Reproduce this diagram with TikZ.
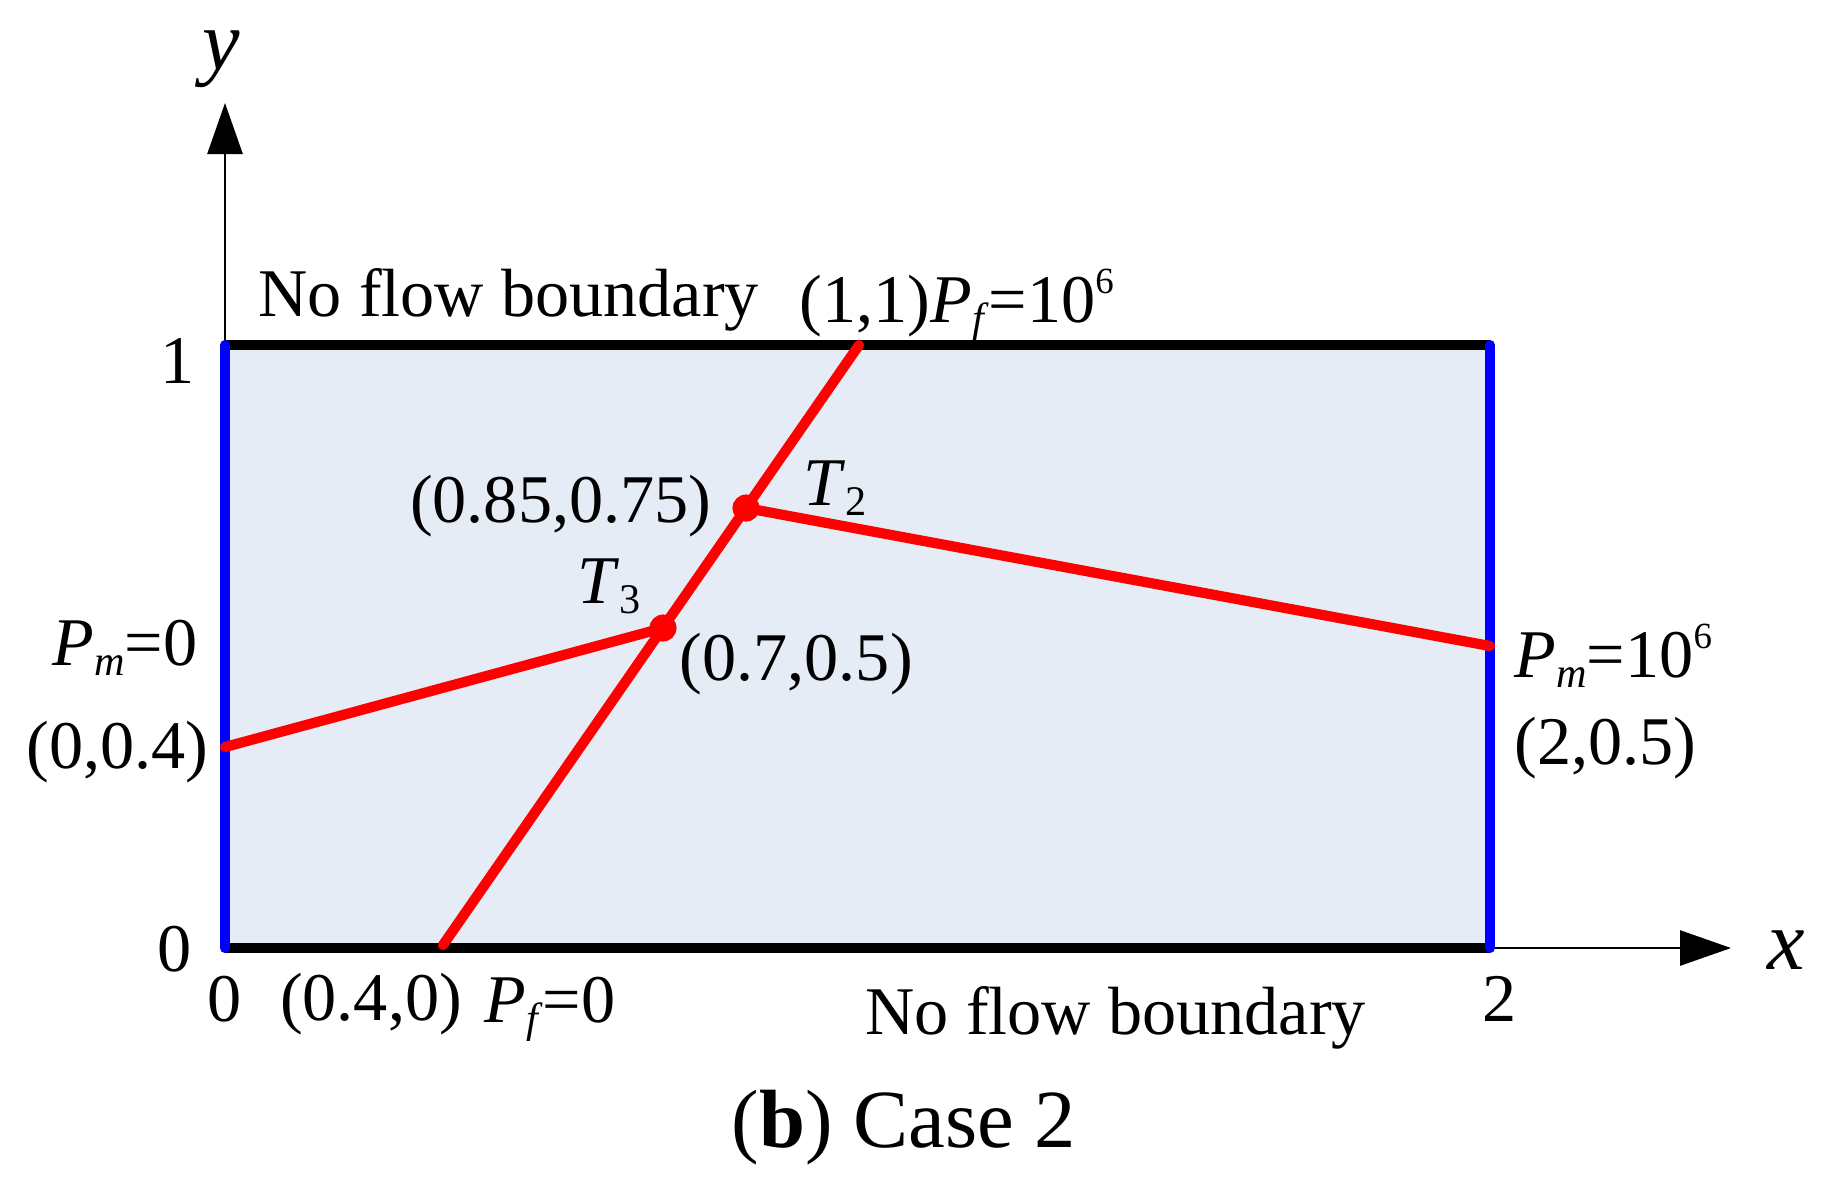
\documentclass[tikz,border=0pt]{standalone}
\usepackage{fontspec}
\setmainfont{Liberation Serif}
\usetikzlibrary{arrows.meta}
\definecolor{bgblue}{RGB}{230,236,246}
\definecolor{fracred}{RGB}{255,0,0}
\definecolor{edgeblue}{RGB}{0,0,255}
\newcommand\Sb[1]{\raisebox{-0.16em}{\fontsize{12}{12}\selectfont #1}}
\newcommand\Sp[1]{\raisebox{0.42em}{\fontsize{10.5}{10.5}\selectfont #1}}
\tikzset{
  lbl/.style={inner sep=0pt, font=\fontsize{19.4}{22}\selectfont},
  axlbl/.style={inner sep=0pt, font=\fontsize{24}{28}\selectfont},
  axis/.style={line width=0.6pt, -{Triangle[length=14.5pt,width=10pt]}},
  bedge/.style={line width=2.6pt, black},
  bledge/.style={line width=2.85pt, edgeblue, line cap=round},
  frac/.style={line width=2.9pt, fracred, line cap=round},
  fdot/.style={circle, fill=fracred, inner sep=0pt, minimum size=7.6pt},
}
\begin{document}
\begin{tikzpicture}[x=0.01cm, y=-0.01cm]
\path[use as bounding box] (0,0) rectangle (1828,1196);
% corners
\coordinate (BL) at (225,948);
\coordinate (BR) at (1490,948);
\coordinate (TL) at (225,345);
\coordinate (TR) at (1490,345);
\coordinate (XA) at (1731,948);
\coordinate (YA) at (225,103);
% fracture points
\coordinate (F0) at (443,945);
\coordinate (F1) at (859,345);
\coordinate (L) at (225,747);
\coordinate (R) at (1490,646);
% domain
\fill[bgblue] (BL) rectangle (TR);
\draw[axis] (BR) -- (XA);
\draw[axis] (TL) -- (YA);
\draw[bedge] (TL) -- (TR);
\draw[bedge] (BL) -- (BR);
\draw[bledge] (BL) -- (TL);
\draw[bledge] (BR) -- (TR);
% fractures
\draw[frac] (F0) -- (F1);
\node[fdot] (J3) at (663,628) {};
\node[fdot] (J2) at (746,508) {};
\draw[frac] (L) -- (J3.center);
\draw[frac] (J2.center) -- (R);
\node[fdot] at (J3) {};
\node[fdot] at (J2) {};
% axis labels
\node[axlbl, anchor=base] (ylab) at (221,69) {\textit{y}};
\node[axlbl, anchor=base] (xlab) at (1786,969) {\textit{x}};
\node[lbl, anchor=base] (t1) at (178,383) {1};
\node[lbl, anchor=base] (t0y) at (175,971) {0};
\node[lbl, anchor=base] (t0x) at (225,1021) {0};
\node[lbl, anchor=base] (t2x) at (1500,1021) {2};
% texts
\node[lbl, anchor=base west] (nftop) at (258,316) {No flow boundary};
\node[lbl, anchor=base west] (p11) at (799,322) {(1,1)\textit{P}\Sb{\textit{f}}=10\Sp{6}};
\node[lbl, anchor=base east] (p085) at (712,522) {(0.85,0.75)};
\node[lbl, anchor=base west] (T2) at (803,505) {\textit{T}\Sb{2}};
\node[lbl, anchor=base west] (T3) at (577,603) {\textit{T}\Sb{3}};
\node[lbl, anchor=base west] (p07) at (679,680) {(0.7,0.5)};
\node[lbl, anchor=base west] (pm0) at (52,665) {\textit{P}\Sb{\textit{m}}=0};
\node[lbl, anchor=base west] (p004) at (26,768) {(0,0.4)};
\node[lbl, anchor=base west] (pm6) at (1514,677) {\textit{P}\Sb{\textit{m}}=10\Sp{6}};
\node[lbl, anchor=base west] (p205) at (1514,764) {(2,0.5)};
\node[lbl, anchor=base] (p040) at (371,1020) {(0.4,0)};
\node[lbl, anchor=base west] (pf0) at (484,1022) {\textit{P}\Sb{\textit{f}}=0};
\node[lbl, anchor=base west] (nfbot) at (865,1034) {No flow boundary};
\node[inner sep=0pt, anchor=base, font=\fontsize{23.5}{27}\selectfont] (cap) at (904,1147) {(\textbf{b}) Case 2};
\end{tikzpicture}
\end{document}
